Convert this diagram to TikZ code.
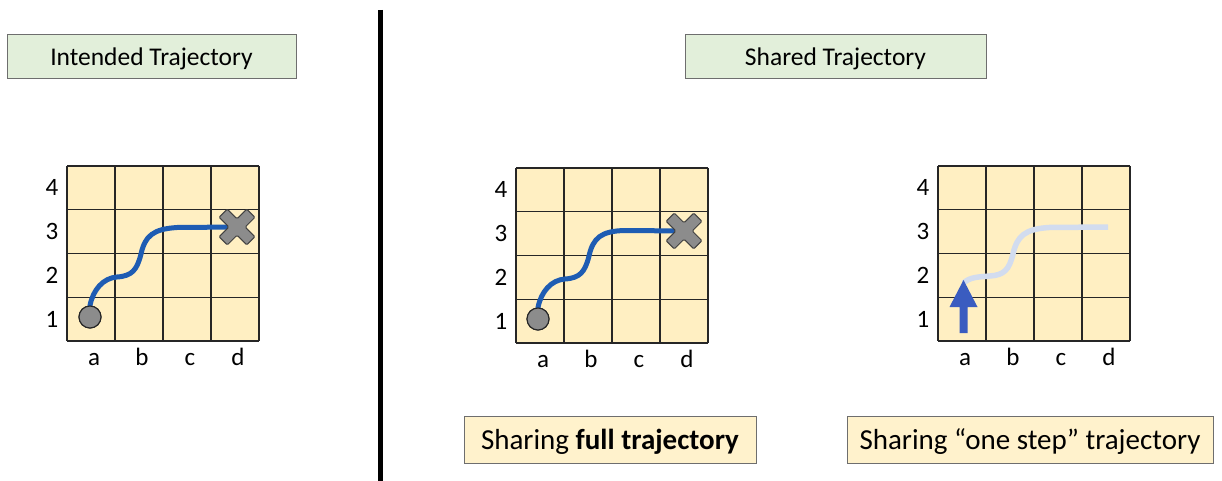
\documentclass[tikz,border=0pt]{standalone}
\usepackage{fontspec}
\setmainfont{Carlito}
\definecolor{titlefill}{HTML}{E2EFDA}
\definecolor{notefill}{HTML}{FFF2CC}
\definecolor{gridfill}{HTML}{FFEFC2}
\definecolor{boxline}{HTML}{6E6E6E}
\definecolor{pathblue}{HTML}{1E5CB3}
\definecolor{pathlight}{HTML}{D2DCEF}
\definecolor{arrowblue}{HTML}{3A5CC0}
\definecolor{markgrey}{HTML}{8C8C8C}
\tikzset{
  titlebox/.style={draw=boxline, line width=0.9, fill=titlefill, minimum height=44, inner sep=0,
    text height=23pt, text depth=4.5pt, font=\fontsize{25.5}{30}\selectfont},
  notebox/.style={draw=boxline, line width=0.9, fill=notefill, minimum height=47, inner sep=0,
    text height=25.5pt, text depth=5pt, font=\fontsize{29}{34}\selectfont},
  gridline/.style={draw=black!85, line width=1.1},
  axislab/.style={font=\fontsize{25}{29}\selectfont, inner sep=0},
  trajpath/.style={draw=pathblue, line width=5, line cap=round},
  lightpath/.style={draw=pathlight, line width=5.5, line cap=butt},
  startdot/.style={circle, draw=black!85, line width=1.1, fill=markgrey, minimum size=22, inner sep=0},
  endmark/.style={fill=markgrey, draw=black!75, line width=1, rounded corners=1.2},
  divider/.style={draw=black, line width=4.5},
}
\newcommand\gridbase[1]{%
  \fill[gridfill] (0,0) rectangle (192,175);
  \foreach \k in {0,...,4}{%
    \draw[gridline] (\k*48,0) -- (\k*48,175);
    \draw[gridline] (0,\k*43.75) -- (192,\k*43.75);
  }
  \foreach \r/\t in {1/4,2/3,3/2,4/1}
    \node[axislab] (#1row\t) at (-15,{(\r-0.5)*43.75}) {\t};
  \foreach \t [count=\n] in {a,b,c,d}
    \node[axislab, anchor=base] (#1col\t) at ({(\n-0.5)*48+3},199) {\t};
}
\newcommand\crossmark{%
  \path[endmark] (5.8,19.5) -- (5.8,5.8) -- (19.5,5.8) -- (19.5,-5.8) -- (5.8,-5.8) -- (5.8,-19.5)
    -- (-5.8,-19.5) -- (-5.8,-5.8) -- (-19.5,-5.8) -- (-19.5,5.8) -- (-5.8,5.8) -- (-5.8,19.5) -- cycle;
}
\begin{document}
\begin{tikzpicture}[x=1pt,y=-1pt]
\useasboundingbox (0,0) rectangle (1222,481);

% titles
\node[titlebox, minimum width=289] (t1) at (151.5,56) {Intended Trajectory};
\node[titlebox, minimum width=301] (t2) at (835.5,56) {Shared Trajectory};

% divider
\coordinate (dtop) at (380.5,10);
\coordinate (dbot) at (380.5,481);
\draw[divider] (dtop) -- (dbot);

% panel 1
\begin{scope}[shift={(67,166)}]
  \gridbase{ga}
  \coordinate (gaend) at (170,61);
  \node[startdot] (gastart) at (23,151) {};
  \draw[trajpath] (gastart.north) .. controls (26,124) and (36,112) .. (50,111)
     .. controls (65,110) and (70,104) .. (74,88)
     .. controls (78,70) and (86,63) .. (110,61.5) -- (gaend);
  \node[startdot] (gastart2) at (23,151) {};
  \begin{scope}[shift={(gaend)}, rotate=45]\crossmark\end{scope}
\end{scope}

% panel 2
\begin{scope}[shift={(516,168)}]
  \gridbase{gb}
  \coordinate (gbend) at (168,63);
  \node[startdot] (gbstart) at (22,151) {};
  \draw[trajpath] (gbstart.north) .. controls (25,124) and (35,112) .. (49,111)
     .. controls (64,110) and (69,104) .. (73,88)
     .. controls (77,70) and (85,63) .. (109,62.5) -- (gbend);
  \node[startdot] (gbstart2) at (22,151) {};
  \begin{scope}[shift={(gbend)}, rotate=45]\crossmark\end{scope}
\end{scope}

% panel 3
\begin{scope}[shift={(938,166)}]
  \gridbase{gc}
  \coordinate (gcend) at (170,61);
  \coordinate (gcapex) at (25.5,117);
  \draw[lightpath] (gcapex) .. controls (32,111) and (40,111) .. (52,110)
     .. controls (66,109) and (71,104) .. (75,88)
     .. controls (79,70) and (87,63) .. (111,61.5) -- (gcend);
  \coordinate (gcbot) at (25.5,167);
  \fill[arrowblue] (gcbot) ++(-4,0) -- ++(0,-26) -- ++(-10,0) -- (25.5,114) -- (39.5,141) -- ++(-10,0) -- ++(0,26) -- cycle;
\end{scope}

% captions
\node[notebox, minimum width=292] (n1) at (610,439.5) {Sharing \textbf{full trajectory}};
\node[notebox, minimum width=366] (n2) at (1030,439.5) {Sharing “one step” trajectory};
\end{tikzpicture}
\end{document}
